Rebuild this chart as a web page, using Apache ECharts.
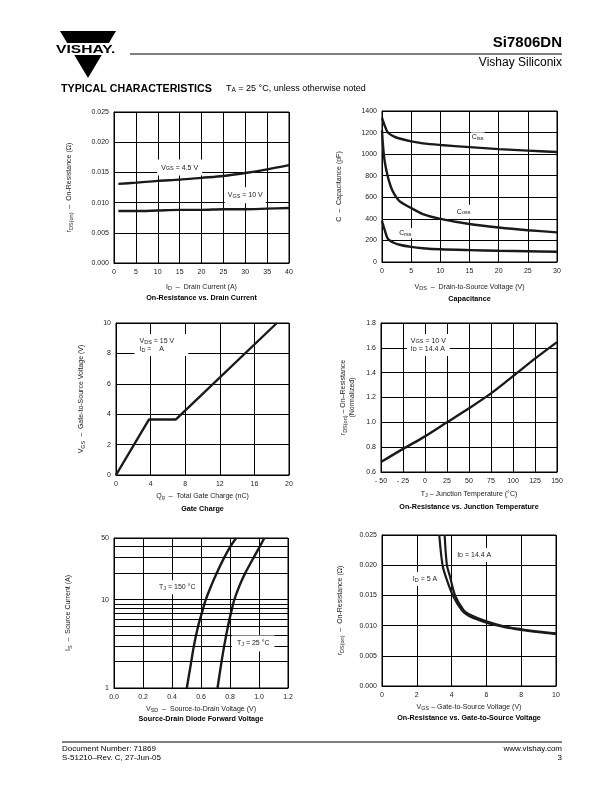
<!DOCTYPE html>
<html><head><meta charset="utf-8">
<script src="https://cdn.jsdelivr.net/npm/echarts@6/dist/echarts.min.js"></script>
<style>html,body{margin:0;padding:0;background:#fff}#c{width:612px;height:792px}</style>
</head><body><div id="c"></div>
<script>
// ---------- DATA ----------
// 1. On-Resistance vs. Drain Current
const idCurrent = [1, 5, 10, 15, 20, 25, 30, 35, 40];
const rdsVgs45 = [0.0131, 0.0133, 0.0136, 0.0138, 0.0141, 0.0144, 0.0149, 0.0155, 0.0162];
const rdsVgs10 = [0.0086, 0.0086, 0.0087, 0.0088, 0.0088, 0.0089, 0.0089, 0.0090, 0.0091];
// 2. Capacitance
const cissVds = [0, 0.5, 1, 2, 3, 5, 7, 10, 15, 20, 25, 30];
const ciss = [1335, 1260, 1200, 1165, 1145, 1118, 1100, 1085, 1065, 1047, 1033, 1020];
const cossVds = [0, 0.2, 0.5, 1, 1.5, 2, 3, 5, 7, 10, 15, 20, 25, 30];
const coss = [1220, 1060, 920, 790, 700, 640, 565, 500, 445, 400, 352, 320, 295, 275];
const crssVds = [0, 0.5, 1, 2, 3, 5, 7, 10, 15, 20, 25, 30];
const crss = [380, 290, 215, 178, 160, 140, 128, 118, 110, 104, 99, 95];
// 3. Gate Charge
const gateQg = [0, 3.8, 6.9, 18.6];
const gateVgs = [0, 3.65, 3.65, 10];
// 4. On-Resistance vs. Junction Temperature
const junctionTemp = [-50, -25, 0, 25, 50, 75, 100, 125, 150];
const rdsNormalized = [0.68, 0.786, 0.887, 1.0, 1.113, 1.233, 1.372, 1.513, 1.646];
// 5. Source-Drain Diode Forward Voltage
const diodeIs = [1, 2, 3, 5, 7, 10, 15, 20, 30, 40, 50];
const vsd150 = [0.502, 0.533, 0.551, 0.58, 0.605, 0.633, 0.675, 0.708, 0.76, 0.802, 0.843];
const vsd25 = [0.714, 0.742, 0.76, 0.786, 0.806, 0.83, 0.87, 0.905, 0.963, 1.005, 1.037];
const diodeMinorGrid = [2, 3, 4, 5, 6, 7, 8, 9, 20, 30, 40];
// 6. On-Resistance vs. Gate-to-Source Voltage
const vgsId5 = [3.29, 3.48, 3.7, 4.07, 4.6, 5, 6, 7, 8, 9, 10];
const rdsId5 = [0.025, 0.020, 0.0178, 0.015, 0.0125, 0.0116, 0.0105, 0.0098, 0.0093, 0.0089, 0.0086];
const vgsId144 = [3.6, 3.73, 3.9, 4.2, 4.7, 5, 6, 7, 8, 9, 10];
const rdsId144 = [0.025, 0.020, 0.0182, 0.015, 0.0125, 0.0119, 0.0107, 0.0099, 0.0094, 0.0090, 0.0087];

// ---------- LAYOUT ----------
const FF = "'Liberation Sans', Arial, Helvetica, sans-serif";
const INK = '#1a1a1a';
const RICH = { s: { fontSize: 5.5, fontFamily: FF, color: INK, verticalAlign: 'bottom', lineHeight: 6, padding: [3, 0, 0, 0] } };
const sub = s => s.split('\n').map(l => l.replace(/_\{([^}]*)\}/g, '{s|$1}')).join('\n');
const zip = (a, b) => a.map((v, i) => [v, b[i]]);

const grids = [
  { left: 114, top: 112, width: 175, height: 151 },
  { left: 382, top: 111, width: 175, height: 151 },
  { left: 116, top: 323, width: 173, height: 152 },
  { left: 381, top: 323, width: 176, height: 149 },
  { left: 114, top: 538, width: 174, height: 150 },
  { left: 382, top: 535, width: 174, height: 151 }
];

function xAx(i, min, max, interval, name, gap, fmt) {
  return {
    gridIndex: i, type: 'value', min, max, interval,
    axisLine: { show: true, onZero: false, lineStyle: { color: '#000', width: 1 } },
    axisTick: { show: false },
    splitLine: { show: true, lineStyle: { color: '#000', width: 1 } },
    axisLabel: { fontSize: 7, color: INK, fontFamily: FF, margin: 6, formatter: fmt || (v => String(v)), hideOverlap: false, showMinLabel: true, showMaxLabel: true },
    name: sub(name), nameLocation: 'middle', nameGap: gap,
    nameTextStyle: { fontSize: 7, color: INK, fontFamily: FF, rich: RICH }
  };
}
function yAx(i, min, max, interval, name, gap, fmt, extra) {
  return Object.assign({
    gridIndex: i, type: 'value', min, max, interval,
    axisLine: { show: true, onZero: false, lineStyle: { color: '#000', width: 1 } },
    axisTick: { show: false },
    splitLine: { show: true, lineStyle: { color: '#000', width: 1 } },
    axisLabel: { fontSize: 7, color: INK, fontFamily: FF, margin: 5, formatter: fmt || (v => String(v)), hideOverlap: false, showMinLabel: true, showMaxLabel: true },
    name: sub(name), nameLocation: 'middle', nameGap: gap,
    nameTextStyle: { fontSize: 7, color: INK, fontFamily: FF, rich: RICH, lineHeight: 9 }
  }, extra || {});
}
function line(i, xs, ys, opts) {
  return Object.assign({
    type: 'line', xAxisIndex: i, yAxisIndex: i, data: zip(xs, ys),
    symbol: 'none', showSymbol: false, smooth: 0.3,
    lineStyle: { color: INK, width: 2.4 }, silent: true, animation: false
  }, opts || {});
}

const f3 = v => v.toFixed(3);
const f1 = v => v.toFixed(1);

const option = {
  animation: false,
  backgroundColor: '#fff',
  grid: grids.map(g => Object.assign({ show: true, borderColor: '#000', borderWidth: 1, containLabel: false }, g)),
  xAxis: [
    xAx(0, 0, 40, 5, 'I_{D}  –  Drain Current (A)', 21),
    xAx(1, 0, 30, 5, 'V_{DS}  –  Drain-to-Source Voltage (V)', 22),
    xAx(2, 0, 20, 4, 'Q_{g}  –  Total Gate Charge (nC)', 18),
    xAx(3, -50, 150, 25, 'T_{J} – Junction Temperature (°C)', 19, v => v < 0 ? '- ' + Math.abs(v) : String(v)),
    xAx(4, 0, 1.2, 0.2, 'V_{SD}  –  Source-to-Drain Voltage (V)', 18, f1),
    xAx(5, 0, 10, 2, 'V_{GS} – Gate-to-Source Voltage (V)', 18)
  ],
  yAxis: [
    yAx(0, 0, 0.025, 0.005, 'r_{DS(on)}  –  On-Resistance (Ω)', 40, f3),
    yAx(1, 0, 1400, 200, 'C  –  Capacitance (pF)', 38),
    yAx(2, 0, 10, 2, 'V_{GS}  –  Gate-to-Source Voltage (V)', 30),
    yAx(3, 0.6, 1.8, 0.2, 'r_{DS(on)} – On–Resistance\n(Normalized)', 24, f1),
    yAx(4, 1, 50, null, 'I_{S}  –  Source Current (A)', 41, v => String(Math.round(v)), { type: 'log', logBase: 10, interval: undefined }),
    yAx(5, 0, 0.025, 0.005, 'r_{DS(on)}  –  On-Resistance (Ω)', 37, f3)
  ],
  series: [
    line(0, idCurrent, rdsVgs45),
    line(0, idCurrent, rdsVgs10),
    line(1, cissVds, ciss),
    line(1, cossVds, coss),
    line(1, crssVds, crss),
    line(2, gateQg, gateVgs, { smooth: false }),
    line(3, junctionTemp, rdsNormalized),
    line(4, vsd150, diodeIs, {
      markLine: {
        silent: true, symbol: ['none', 'none'], label: { show: false }, animation: false,
        lineStyle: { color: '#000', width: 1, type: 'solid' }, emphasis: { disabled: true },
        data: diodeMinorGrid.map(v => ({ yAxis: v }))
      }
    }),
    line(4, vsd25, diodeIs),
    line(5, vgsId5, rdsId5, { lineStyle: { color: INK, width: 2.2 } }),
    line(5, vgsId144, rdsId144, { lineStyle: { color: INK, width: 2.2 } })
  ]
};

const chart = echarts.init(document.getElementById('c'), null, { renderer: 'canvas', width: 612, height: 792 });
chart.setOption(option);

// ---------- ANNOTATIONS (positioned in data space) ----------
const notes = [
  { g: 0, at: [15, 0.0158], text: 'V_{GS} = 4.5 V', pad: [4, 4, 4, 4] },
  { g: 0, at: [30, 0.0112], text: 'V_{GS} = 10 V', pad: [4, 3, 4, 3] },
  { g: 1, at: [16.4, 1156], text: 'C_{iss}', pad: [1, 1, 1, 1] },
  { g: 1, at: [14, 466], text: 'C_{oss}', pad: [3, 3, 3, 3] },
  { g: 1, at: [4.0, 268], text: 'C_{rss}', pad: [1, 1, 1, 1] },
  { g: 2, at: [2.14, 8.55], text: 'V_{DS} = 15 V\nI_{D} =    A', align: 'left', pad: [3, 14, 3, 5] },
  { g: 3, at: [-20.6, 1.623], text: 'V_{GS} = 10 V\nI_{D} = 14.4 A', align: 'left', pad: [3, 4, 3, 4] },
  { g: 4, at: [0.436, 13.8], text: 'T_{J} = 150 °C', pad: [3, 3, 3, 3] },
  { g: 4, at: [0.96, 3.19], text: 'T_{J} = 25 °C', pad: [4, 5, 4, 5] },
  { g: 5, at: [5.3, 0.0217], text: 'I_{D} = 14.4 A', pad: [3, 3, 3, 3] },
  { g: 5, at: [2.47, 0.0177], text: 'I_{D} = 5 A', pad: [3, 3, 3, 3] }
];
const titles = [
  'On-Resistance vs. Drain Current', 'Capacitance', 'Gate Charge',
  'On-Resistance vs. Junction Temperature', 'Source-Drain Diode Forward Voltage',
  'On-Resistance vs. Gate-to-Source Voltage'
];
const titleY = [298, 299, 509, 507, 719, 718];

const gfx = [];
notes.forEach(n => {
  const p = chart.convertToPixel({ gridIndex: n.g }, n.at);
  gfx.push({
    type: 'text', x: p[0], y: p[1], z: 50,
    style: {
      text: sub(n.text), fill: INK, fontSize: 7, fontFamily: FF, lineHeight: 8,
      align: n.align || 'center', verticalAlign: 'middle',
      textAlign: n.align || 'center', textVerticalAlign: 'middle',
      backgroundColor: '#fff', padding: n.pad, rich: RICH
    }
  });
});
titles.forEach((t, i) => {
  const g = grids[i];
  gfx.push({
    type: 'text', x: g.left + g.width / 2, y: titleY[i], z: 50,
    style: { text: t, fill: '#000', fontSize: 7.2, fontWeight: 'bold', fontFamily: FF, align: 'center', verticalAlign: 'middle', textAlign: 'center', textVerticalAlign: 'middle' }
  });
});
const T = (x, y, text, size, weight, align) => ({
  type: 'text', x, y,
  style: { text, fill: '#000', fontSize: size, fontWeight: weight || 'normal', fontFamily: FF, align, verticalAlign: 'middle', textAlign: align, textVerticalAlign: 'middle' }
});
// header
const logoText = T(0, 0, 'VISHAY.', 11, 900, 'left');
logoText.x = 56; logoText.y = 49.5; logoText.scaleX = 1.42; logoText.originX = 0; logoText.originY = 0;
gfx.push(
  { type: 'polygon', shape: { points: [[60, 31], [116, 31], [108.9, 43], [67.1, 43]] }, style: { fill: '#000' } },
  { type: 'polygon', shape: { points: [[74.3, 55], [101.7, 55], [88, 78]] }, style: { fill: '#000' } },
  logoText,
  { type: 'line', shape: { x1: 130, y1: 54, x2: 562, y2: 54 }, style: { stroke: '#000', lineWidth: 1 } },
  T(562, 43, 'Si7806DN', 15, 'bold', 'right'),
  T(562, 63, 'Vishay Siliconix', 12, 'normal', 'right'),
  T(61, 89, 'TYPICAL CHARACTERISTICS', 10.7, 900, 'left'),
  { type: 'text', x: 226, y: 89, style: { text: 'T{s|A} = 25 °C, unless otherwise noted', fill: '#000', fontSize: 9, fontFamily: FF, align: 'left', verticalAlign: 'middle', textAlign: 'left', textVerticalAlign: 'middle',
    rich: { s: { fontSize: 6.5, fontFamily: FF, verticalAlign: 'bottom', lineHeight: 7, padding: [3, 0, 0, 0] } } } },
  // footer
  { type: 'line', shape: { x1: 62, y1: 742, x2: 562, y2: 742 }, style: { stroke: '#000', lineWidth: 1 } },
  T(62, 749, 'Document Number: 71869', 8, 'normal', 'left'),
  T(62, 758, 'S-51210–Rev. C, 27-Jun-05', 8, 'normal', 'left'),
  T(562, 749, 'www.vishay.com', 8, 'normal', 'right'),
  T(562, 758, '3', 8, 'normal', 'right')
);
chart.setOption({ graphic: { elements: gfx } });
</script>
</body></html>
